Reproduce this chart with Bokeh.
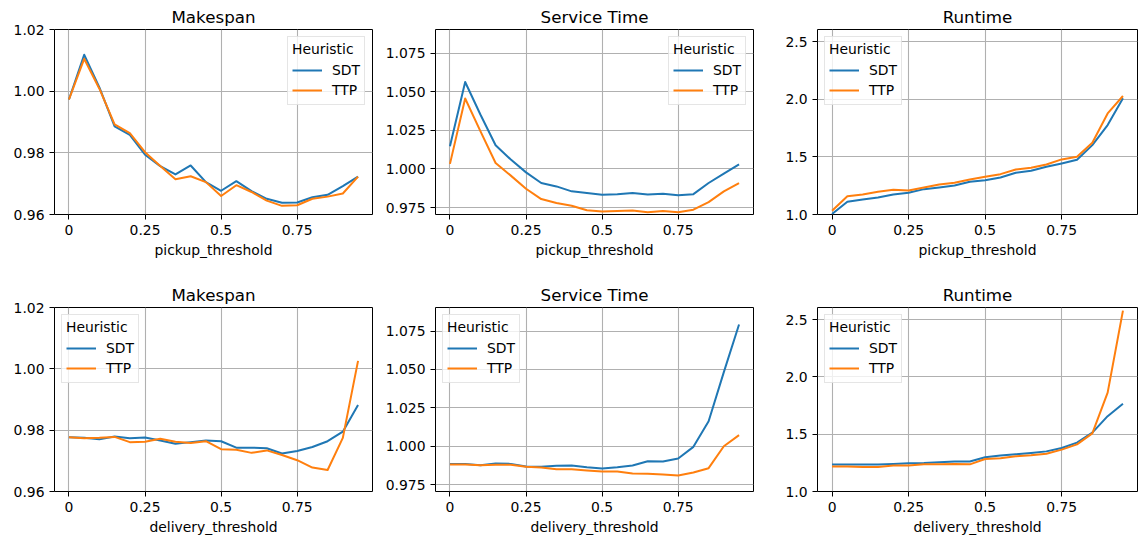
from bokeh.plotting import figure
from bokeh.layouts import column, row
from bokeh.models import Range1d, FixedTicker, PrintfTickFormatter, Legend, LegendItem
from bokeh.embed import file_html
from bokeh.resources import INLINE

thresholds = [0.0, 0.05, 0.10, 0.15, 0.20, 0.25, 0.30, 0.35, 0.40, 0.45,
              0.50, 0.55, 0.60, 0.65, 0.70, 0.75, 0.80, 0.85, 0.90, 0.95]
heuristics = ["SDT", "TTP"]
x_tick_values = [0, 0.25, 0.5, 0.75]
x_tick_labels = ["0", "0.25", "0.5", "0.75"]

pickup_makespan_sdt = [0.9973, 1.0118, 1.0012, 0.9886, 0.9858, 0.9794, 0.9757, 0.9730, 0.9759, 0.9705,
                       0.9677, 0.9708, 0.9676, 0.9651, 0.9638, 0.9639, 0.9656, 0.9664, 0.9692, 0.9723]
pickup_makespan_ttp = [0.9973, 1.0105, 1.0008, 0.9892, 0.9864, 0.9802, 0.9757, 0.9714, 0.9724, 0.9705,
                       0.9660, 0.9695, 0.9673, 0.9645, 0.9628, 0.9630, 0.9651, 0.9658, 0.9668, 0.9723]
pickup_service_sdt = [1.0147, 1.0564, 1.0353, 1.0154, 1.0061, 0.9978, 0.9909, 0.9887, 0.9855, 0.9844,
                      0.9833, 0.9837, 0.9844, 0.9835, 0.9840, 0.9829, 0.9837, 0.9909, 0.9970, 1.0030]
pickup_service_ttp = [1.0033, 1.0457, 1.0245, 1.0039, 0.9957, 0.9872, 0.9805, 0.9779, 0.9762, 0.9733,
                      0.9725, 0.9727, 0.9731, 0.9720, 0.9727, 0.9720, 0.9736, 0.9785, 0.9855, 0.9909]
pickup_runtime_sdt = [1.005, 1.110, 1.130, 1.148, 1.174, 1.188, 1.220, 1.235, 1.252, 1.284,
                      1.298, 1.321, 1.362, 1.379, 1.414, 1.443, 1.475, 1.602, 1.776, 2.008]
pickup_runtime_ttp = [1.032, 1.159, 1.174, 1.197, 1.214, 1.209, 1.235, 1.261, 1.275, 1.304,
                      1.327, 1.350, 1.391, 1.405, 1.434, 1.478, 1.501, 1.623, 1.877, 2.028]

delivery_makespan_sdt = [0.9777, 0.9775, 0.9770, 0.9779, 0.9774, 0.9776, 0.9766, 0.9756, 0.9761, 0.9766,
                         0.9764, 0.9743, 0.9743, 0.9741, 0.9724, 0.9732, 0.9745, 0.9764, 0.9795, 0.9882]
delivery_makespan_ttp = [0.9777, 0.9774, 0.9775, 0.9778, 0.9761, 0.9762, 0.9772, 0.9762, 0.9758, 0.9764,
                         0.9738, 0.9736, 0.9726, 0.9734, 0.9719, 0.9702, 0.9678, 0.9670, 0.9775, 1.0026]
delivery_service_sdt = [0.9885, 0.9885, 0.9876, 0.9887, 0.9885, 0.9868, 0.9866, 0.9872, 0.9874, 0.9863,
                        0.9855, 0.9863, 0.9874, 0.9902, 0.9900, 0.9920, 0.9996, 1.0163, 1.0483, 1.0793]
delivery_service_ttp = [0.9881, 0.9881, 0.9876, 0.9879, 0.9879, 0.9866, 0.9861, 0.9850, 0.9850, 0.9842,
                        0.9835, 0.9835, 0.9822, 0.9820, 0.9816, 0.9809, 0.9829, 0.9857, 1.0000, 1.0072]
delivery_runtime_sdt = [1.235, 1.235, 1.235, 1.235, 1.240, 1.246, 1.249, 1.255, 1.261, 1.261,
                        1.298, 1.313, 1.324, 1.336, 1.350, 1.379, 1.426, 1.513, 1.657, 1.765]
delivery_runtime_ttp = [1.217, 1.217, 1.214, 1.214, 1.226, 1.226, 1.237, 1.237, 1.240, 1.237,
                        1.284, 1.290, 1.307, 1.316, 1.330, 1.365, 1.411, 1.507, 1.863, 2.578]

FONT = "DejaVu Sans"
COLORS = ["#1f77b4", "#ff7f0e"]

metric_cfg = {
    "Makespan": dict(yr=(0.96, 1.02), ticks=[0.96, 0.98, 1.00, 1.02], fmt="%.2f"),
    "Service Time": dict(yr=(0.9705, 1.0904), ticks=[0.975, 1.0, 1.025, 1.05, 1.075], fmt="%.3f"),
    "Runtime": dict(yr=(1.0, 2.605), ticks=[1.0, 1.5, 2.0, 2.5], fmt="%.1f"),
}

# column geometry: (border_left, frame_width, border_right)
col_geom = [(54, 318, 8), (55, 318, 7), (57, 320, 3)]
# row geometry: (border_top, frame_height, border_bottom)
row_geom = [(29, 185, 66), (27, 184, 44)]


def make_panel(title, xlabel, s_sdt, s_ttp, col, rw, legend_loc):
    bl, fw, br = col_geom[col]
    bt, fh, bb = row_geom[rw]
    cfg = metric_cfg[title]
    p = figure(output_backend="svg", toolbar_location=None,
               frame_width=fw, frame_height=fh,
               min_border_left=bl, min_border_right=br,
               min_border_top=bt, min_border_bottom=bb,
               x_range=Range1d(-0.0475, 0.9975),
               y_range=Range1d(*cfg["yr"]),
               title=title)
    p.title.text_font = FONT
    p.title.text_font_size = "16.7px"
    p.title.text_font_style = "normal"
    p.title.text_color = "black"
    p.title.align = "center"
    p.title.standoff = 5
    p.background_fill_color = "white"
    p.border_fill_color = "white"
    p.outline_line_color = "black"
    p.outline_line_width = 1
    p.outline_line_alpha = 1

    for ax in (p.xaxis[0], p.yaxis[0]):
        ax.axis_line_color = None
        ax.major_tick_in = 0
        ax.major_tick_out = 5
        ax.major_tick_line_color = "black"
        ax.major_tick_line_width = 1
        ax.minor_tick_line_color = None
        ax.major_label_text_font = FONT
        ax.major_label_text_font_size = "13.9px"
        ax.major_label_text_color = "black"
        ax.major_label_standoff = 5
    p.xaxis.ticker = FixedTicker(ticks=x_tick_values)
    p.xaxis.major_label_overrides = {v: s for v, s in zip(x_tick_values, x_tick_labels)}
    p.xaxis.axis_label = xlabel
    p.xaxis.axis_label_text_font = FONT
    p.xaxis.axis_label_text_font_size = "13.9px"
    p.xaxis.axis_label_text_font_style = "normal"
    p.xaxis.axis_label_text_color = "black"
    p.xaxis.axis_label_standoff = 4
    p.yaxis.ticker = FixedTicker(ticks=cfg["ticks"])
    p.yaxis.formatter = PrintfTickFormatter(format=cfg["fmt"])

    p.grid.grid_line_color = "#b0b0b0"
    p.grid.grid_line_width = 1.1

    r1 = p.line(thresholds, s_sdt, line_color=COLORS[0], line_width=2, line_join="round")
    r2 = p.line(thresholds, s_ttp, line_color=COLORS[1], line_width=2, line_join="round")

    legend = Legend(items=[LegendItem(label=heuristics[0], renderers=[r1]),
                           LegendItem(label=heuristics[1], renderers=[r2])],
                    location=legend_loc, title="Heuristic")
    legend.title_text_font = FONT
    legend.title_text_font_size = "13.9px"
    legend.title_text_font_style = "normal"
    legend.title_text_color = "black"
    legend.title_standoff = 3
    legend.label_text_font = FONT
    legend.label_text_font_size = "13.9px"
    legend.label_text_color = "black"
    legend.label_standoff = 10
    legend.label_height = 20
    legend.glyph_height = 20
    legend.glyph_width = 30
    legend.spacing = 0
    legend.padding = 4
    legend.margin = 7
    legend.border_line_color = "#cccccc"
    legend.border_line_width = 1
    legend.background_fill_color = "white"
    legend.background_fill_alpha = 0.8
    p.add_layout(legend)
    return p


p1 = make_panel("Makespan", "pickup_threshold", pickup_makespan_sdt, pickup_makespan_ttp, 0, 0, "top_right")
p2 = make_panel("Service Time", "pickup_threshold", pickup_service_sdt, pickup_service_ttp, 1, 0, "top_right")
p3 = make_panel("Runtime", "pickup_threshold", pickup_runtime_sdt, pickup_runtime_ttp, 2, 0, "top_left")
p4 = make_panel("Makespan", "delivery_threshold", delivery_makespan_sdt, delivery_makespan_ttp, 0, 1, "top_left")
p5 = make_panel("Service Time", "delivery_threshold", delivery_service_sdt, delivery_service_ttp, 1, 1, "top_left")
p6 = make_panel("Runtime", "delivery_threshold", delivery_runtime_sdt, delivery_runtime_ttp, 2, 1, "top_left")

layout = column(row(p1, p2, p3, spacing=0), row(p4, p5, p6, spacing=0), spacing=0)

open("out.html", "w").write(file_html(layout, INLINE))
